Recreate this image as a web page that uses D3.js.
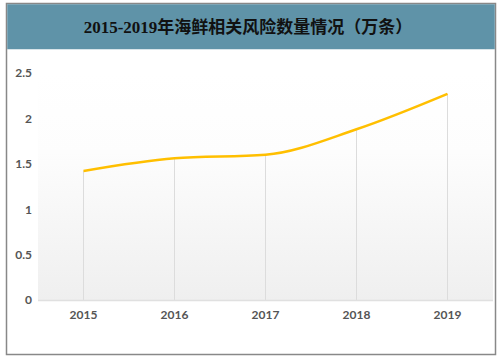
<!DOCTYPE html>
<html><head><meta charset="utf-8">
<script src="https://cdn.jsdelivr.net/npm/d3@7"></script>
<style>body{margin:0;background:#fff}svg{display:block}</style>
</head><body>
<svg id="c" width="501" height="360"></svg>
<script>
const title = "2015-2019年海鲜相关风险数量情况（万条）";
const years = ["2015","2016","2017","2018","2019"];
const values = [1.42, 1.56, 1.60, 1.88, 2.27];
const yTicks = [0, 0.5, 1, 1.5, 2, 2.5];

const svg = d3.select("#c");
const defs = svg.append("defs");
const g = defs.append("linearGradient").attr("id","bg").attr("x1",0).attr("y1",0).attr("x2",0).attr("y2",1);
g.append("stop").attr("offset","0%").attr("stop-color","#ffffff");
g.append("stop").attr("offset","35%").attr("stop-color","#fdfdfd");
g.append("stop").attr("offset","100%").attr("stop-color","#efefef");

// frame
svg.append("rect").attr("x",6.5).attr("y",3.5).attr("width",489).attr("height",351)
  .attr("fill","#fff").attr("stroke","#888").attr("stroke-width",1.5);
svg.append("rect").attr("x",7.25).attr("y",4.25).attr("width",487.5).attr("height",45)
  .attr("fill","#5f93a8");
svg.append("text").attr("x",248).attr("y",33).attr("text-anchor","middle")
  .attr("font-family","'Liberation Serif','Noto Sans CJK SC'").attr("font-size",17)
  .attr("font-weight","bold").attr("fill","#111").text(title);

const x = d3.scaleBand().domain(years).range([38, 493]);
const y = d3.scaleLinear().domain([0, 2.5]).range([300, 73]);

svg.append("rect").attr("x",38).attr("y",y(2.5)).attr("width",455).attr("height",y(0)-y(2.5))
  .attr("fill","url(#bg)");

// drop lines
svg.append("g").selectAll("line").data(years).join("line")
  .attr("x1",d=>x(d)+x.bandwidth()/2).attr("x2",d=>x(d)+x.bandwidth()/2)
  .attr("y1",(d,i)=>y(values[i])).attr("y2",y(0))
  .attr("stroke","#dcdcdc").attr("stroke-width",1);

// baseline
svg.append("line").attr("x1",38).attr("x2",493).attr("y1",y(0)+0.5).attr("y2",y(0)+0.5)
  .attr("stroke","#e0e0e0").attr("stroke-width",1.5);

// y axis
const ya = svg.append("g").attr("transform","translate(32,0)")
  .call(d3.axisLeft(y).tickValues(yTicks).tickSize(0).tickPadding(0).tickFormat(d3.format("")));
ya.select(".domain").remove();
ya.selectAll("text").attr("font-family","Lato, 'Open Sans', sans-serif").attr("font-size",12)
  .attr("font-weight","bold").attr("fill","#555");

// x axis
const xa = svg.append("g").attr("transform",`translate(0,${y(0)})`)
  .call(d3.axisBottom(x).tickSize(0).tickPadding(10));
xa.select(".domain").remove();
xa.selectAll("text").attr("font-family","Lato, 'Open Sans', sans-serif").attr("font-size",12)
  .attr("font-weight","bold").attr("fill","#555");

// line
const line = d3.line().x((d,i)=>x(years[i])+x.bandwidth()/2).y(d=>y(d)).curve(d3.curveMonotoneX);
svg.append("path").datum(values).attr("d",line).attr("fill","none")
  .attr("stroke","#ffbf00").attr("stroke-width",2.5);
</script>
</body></html>
